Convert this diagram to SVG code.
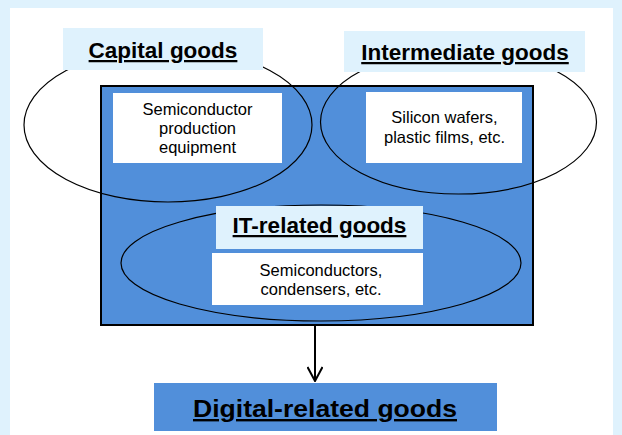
<svg xmlns="http://www.w3.org/2000/svg" width="622" height="435" viewBox="0 0 622 435">
<defs>
<style>
.lbl{fill:#DFF2FD}
.wbox{fill:#FFFFFF}
.ell{fill:none;stroke:#000;stroke-width:1.2}
.ttl{font-family:"Liberation Sans",Arial,sans-serif;font-weight:bold;font-size:22.5px;fill:#000;text-anchor:middle;text-decoration:underline}
.txt{font-family:"Liberation Sans",Arial,sans-serif;font-size:16.5px;fill:#000;text-anchor:middle}
</style>
<marker id="arr" viewBox="0 0 16 16" refX="15" refY="8" markerWidth="16" markerHeight="16" markerUnits="userSpaceOnUse" orient="auto">
<path d="M1,0.5 L15,8 L1,15.5" fill="none" stroke="#000" stroke-width="2"/>
</marker>
</defs>
<rect x="0" y="0" width="622" height="435" fill="#DFF2FD"/>
<rect x="10" y="8" width="603" height="427" fill="#FFFFFF"/>
<g id="it-box">
<rect x="101" y="86" width="432" height="239" fill="#518FDA" stroke="#000" stroke-width="2"/>
</g>
<g id="capital-ellipse"><ellipse class="ell" cx="168" cy="125" rx="144" ry="77"/></g>
<g id="intermediate-ellipse"><ellipse class="ell" cx="458.5" cy="122" rx="138" ry="72"/></g>
<g id="it-ellipse"><ellipse class="ell" cx="321" cy="263" rx="200" ry="58"/></g>
<g id="capital-label">
<rect class="lbl" x="63" y="28" width="200" height="42"/>
<text class="ttl" x="163" y="58">Capital goods</text>
</g>
<g id="intermediate-label">
<rect class="lbl" x="344" y="31" width="241" height="41"/>
<text class="ttl" x="465" y="60">Intermediate goods</text>
</g>
<g id="semiconductor-equipment">
<rect class="wbox" x="113" y="93" width="169" height="70"/>
<text class="txt" x="197.5" y="115">Semiconductor</text>
<text class="txt" x="197.5" y="134">production</text>
<text class="txt" x="197.5" y="153">equipment</text>
</g>
<g id="silicon-wafers">
<rect class="wbox" x="366" y="92" width="156" height="71"/>
<text class="txt" x="444.5" y="123">Silicon wafers,</text>
<text class="txt" x="444.5" y="143">plastic films, etc.</text>
</g>
<g id="it-label">
<rect class="lbl" x="216" y="206" width="207" height="43"/>
<text class="ttl" x="319.5" y="233">IT-related goods</text>
</g>
<g id="semiconductors">
<rect class="wbox" x="212" y="253" width="211" height="52"/>
<text class="txt" x="321" y="276">Semiconductors,</text>
<text class="txt" x="321" y="295">condensers, etc.</text>
</g>
<g id="connectors">
<line x1="315" y1="325" x2="315" y2="381" stroke="#000" stroke-width="2" marker-end="url(#arr)"/>
</g>
<g id="digital">
<rect x="154" y="383" width="343" height="48" fill="#518FDA"/>
<text class="ttl" x="325" y="417" style="font-size:24px" textLength="264" lengthAdjust="spacingAndGlyphs">Digital-related goods</text>
</g>
</svg>
